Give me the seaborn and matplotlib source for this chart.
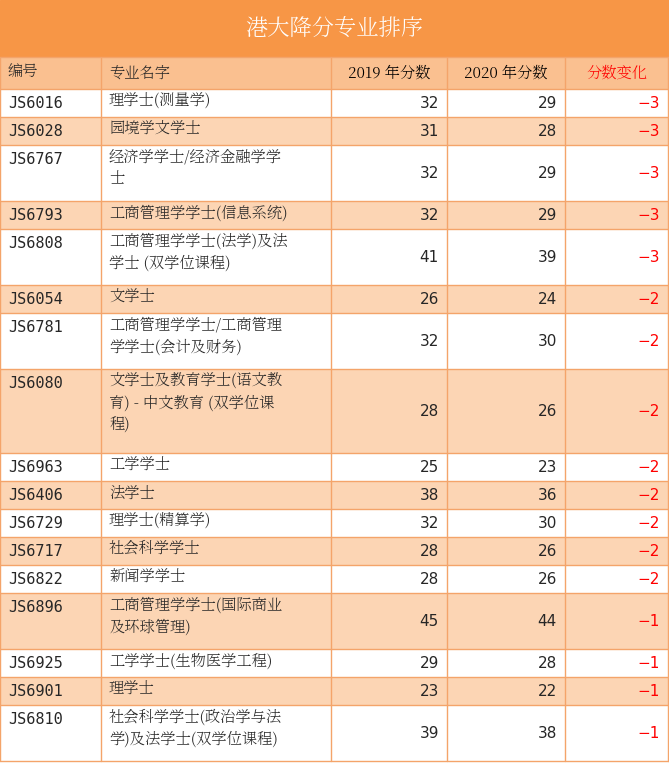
import matplotlib
matplotlib.use("Agg")
import glob
import matplotlib.pyplot as plt
import seaborn as sns
from matplotlib import font_manager as fm
from matplotlib.patches import Rectangle

sns.set_theme(style="white")

title = "港大降分专业排序"
headers = ["编号", "专业名字", "2019 年分数", "2020 年分数", "分数变化"]
codes = ["JS6016", "JS6028", "JS6767", "JS6793", "JS6808", "JS6054", "JS6781", "JS6080",
         "JS6963", "JS6406", "JS6729", "JS6717", "JS6822", "JS6896", "JS6925", "JS6901", "JS6810"]
names = ["理学士(测量学)", "园境学文学士", "经济学学士/经济金融学学\n士", "工商管理学学士(信息系统)",
         "工商管理学学士(法学)及法\n学士 (双学位课程)", "文学士", "工商管理学学士/工商管理\n学学士(会计及财务)",
         "文学士及教育学士(语文教\n育) - 中文教育 (双学位课\n程)", "工学学士", "法学士", "理学士(精算学)",
         "社会科学学士", "新闻学学士", "工商管理学学士(国际商业\n及环球管理)", "工学学士(生物医学工程)",
         "理学士", "社会科学学士(政治学与法\n学)及法学士(双学位课程)"]
score2019 = [32, 31, 32, 32, 41, 26, 32, 28, 25, 38, 32, 28, 28, 45, 29, 23, 39]
score2020 = [29, 28, 29, 29, 39, 24, 30, 26, 23, 36, 30, 26, 26, 44, 28, 22, 38]
change = [-3, -3, -3, -3, -3, -2, -2, -2, -2, -2, -2, -2, -2, -1, -1, -1, -1]

# locate a CJK font file
cjk_path = None
for f in fm.fontManager.ttflist:
    if "CJK" in f.name and "SC" in f.name:
        cjk_path = f.fname; break
if cjk_path is None:
    for f in fm.fontManager.ttflist:
        if "CJK" in f.name:
            cjk_path = f.fname; break
if cjk_path is None:
    c = glob.glob("/usr/share/fonts/**/*CJK*", recursive=True)
    cjk_path = c[0] if c else None
def fp(size, bold=False):
    if cjk_path:
        p = fm.FontProperties(fname=cjk_path, size=size)
    else:
        p = fm.FontProperties(family="Noto Sans CJK SC", size=size)
    if bold:
        p.set_weight("bold")
    return p

W, H = 669, 770
fig = plt.figure(figsize=(W / 100, H / 100), dpi=100)
ax = fig.add_axes([0, 0, 1, 1])
ax.set_xlim(0, W); ax.set_ylim(H, 0); ax.axis("off")

orange = "#F79646"; peach = "#FCD5B4"; headc = "#FAC090"; line = "#F4A46A"
cols = [0, 101, 331, 447, 565, W - 1]
fs = 11

ax.add_patch(Rectangle((0, 0), W, 57, color=orange))
ax.text(W / 2, 29, title, color="white", fontproperties=fp(16, True), ha="center", va="center")

y = 57
ax.add_patch(Rectangle((0, y), W, 32, facecolor=headc, edgecolor="none"))
for i, h in enumerate(headers):
    if i < 2:
        ax.text(cols[i] + 8, y + 16, h, fontproperties=fp(fs, True), va="center", ha="left")
    else:
        ax.text((cols[i] + cols[i + 1]) / 2, y + 16, h, fontproperties=fp(fs, True), va="center",
                ha="center", color="#FF0000" if i == 4 else "black")
ax.plot([0, W], [y, y], color=line, lw=1)
y += 32
for r in range(len(codes)):
    n = names[r].count("\n") + 1
    rh = 28 * n
    fc = peach if r % 2 == 1 else "white"
    ax.add_patch(Rectangle((0, y), W, rh, facecolor=fc, edgecolor="none"))
    ax.plot([0, W], [y, y], color=line, lw=1)
    ax.text(cols[0] + 8, y + 14, codes[r], fontsize=fs, va="center", ha="left", family="DejaVu Sans Mono")
    ax.text(cols[1] + 8, y + 4, names[r], fontproperties=fp(fs), va="top", ha="left", linespacing=1.45)
    ax.text(cols[3] - 8, y + rh / 2, str(score2019[r]), fontsize=fs, va="center", ha="right")
    ax.text(cols[4] - 8, y + rh / 2, str(score2020[r]), fontsize=fs, va="center", ha="right")
    ax.text(cols[5] - 8, y + rh / 2, "−%d" % abs(change[r]), fontsize=fs, va="center", ha="right", color="#FF0000")
    y += rh
ax.plot([0, W], [y, y], color=line, lw=1)
for x in cols:
    ax.plot([x, x], [57, y], color=line, lw=1)

fig.savefig("out.png", dpi=100, facecolor="white")
